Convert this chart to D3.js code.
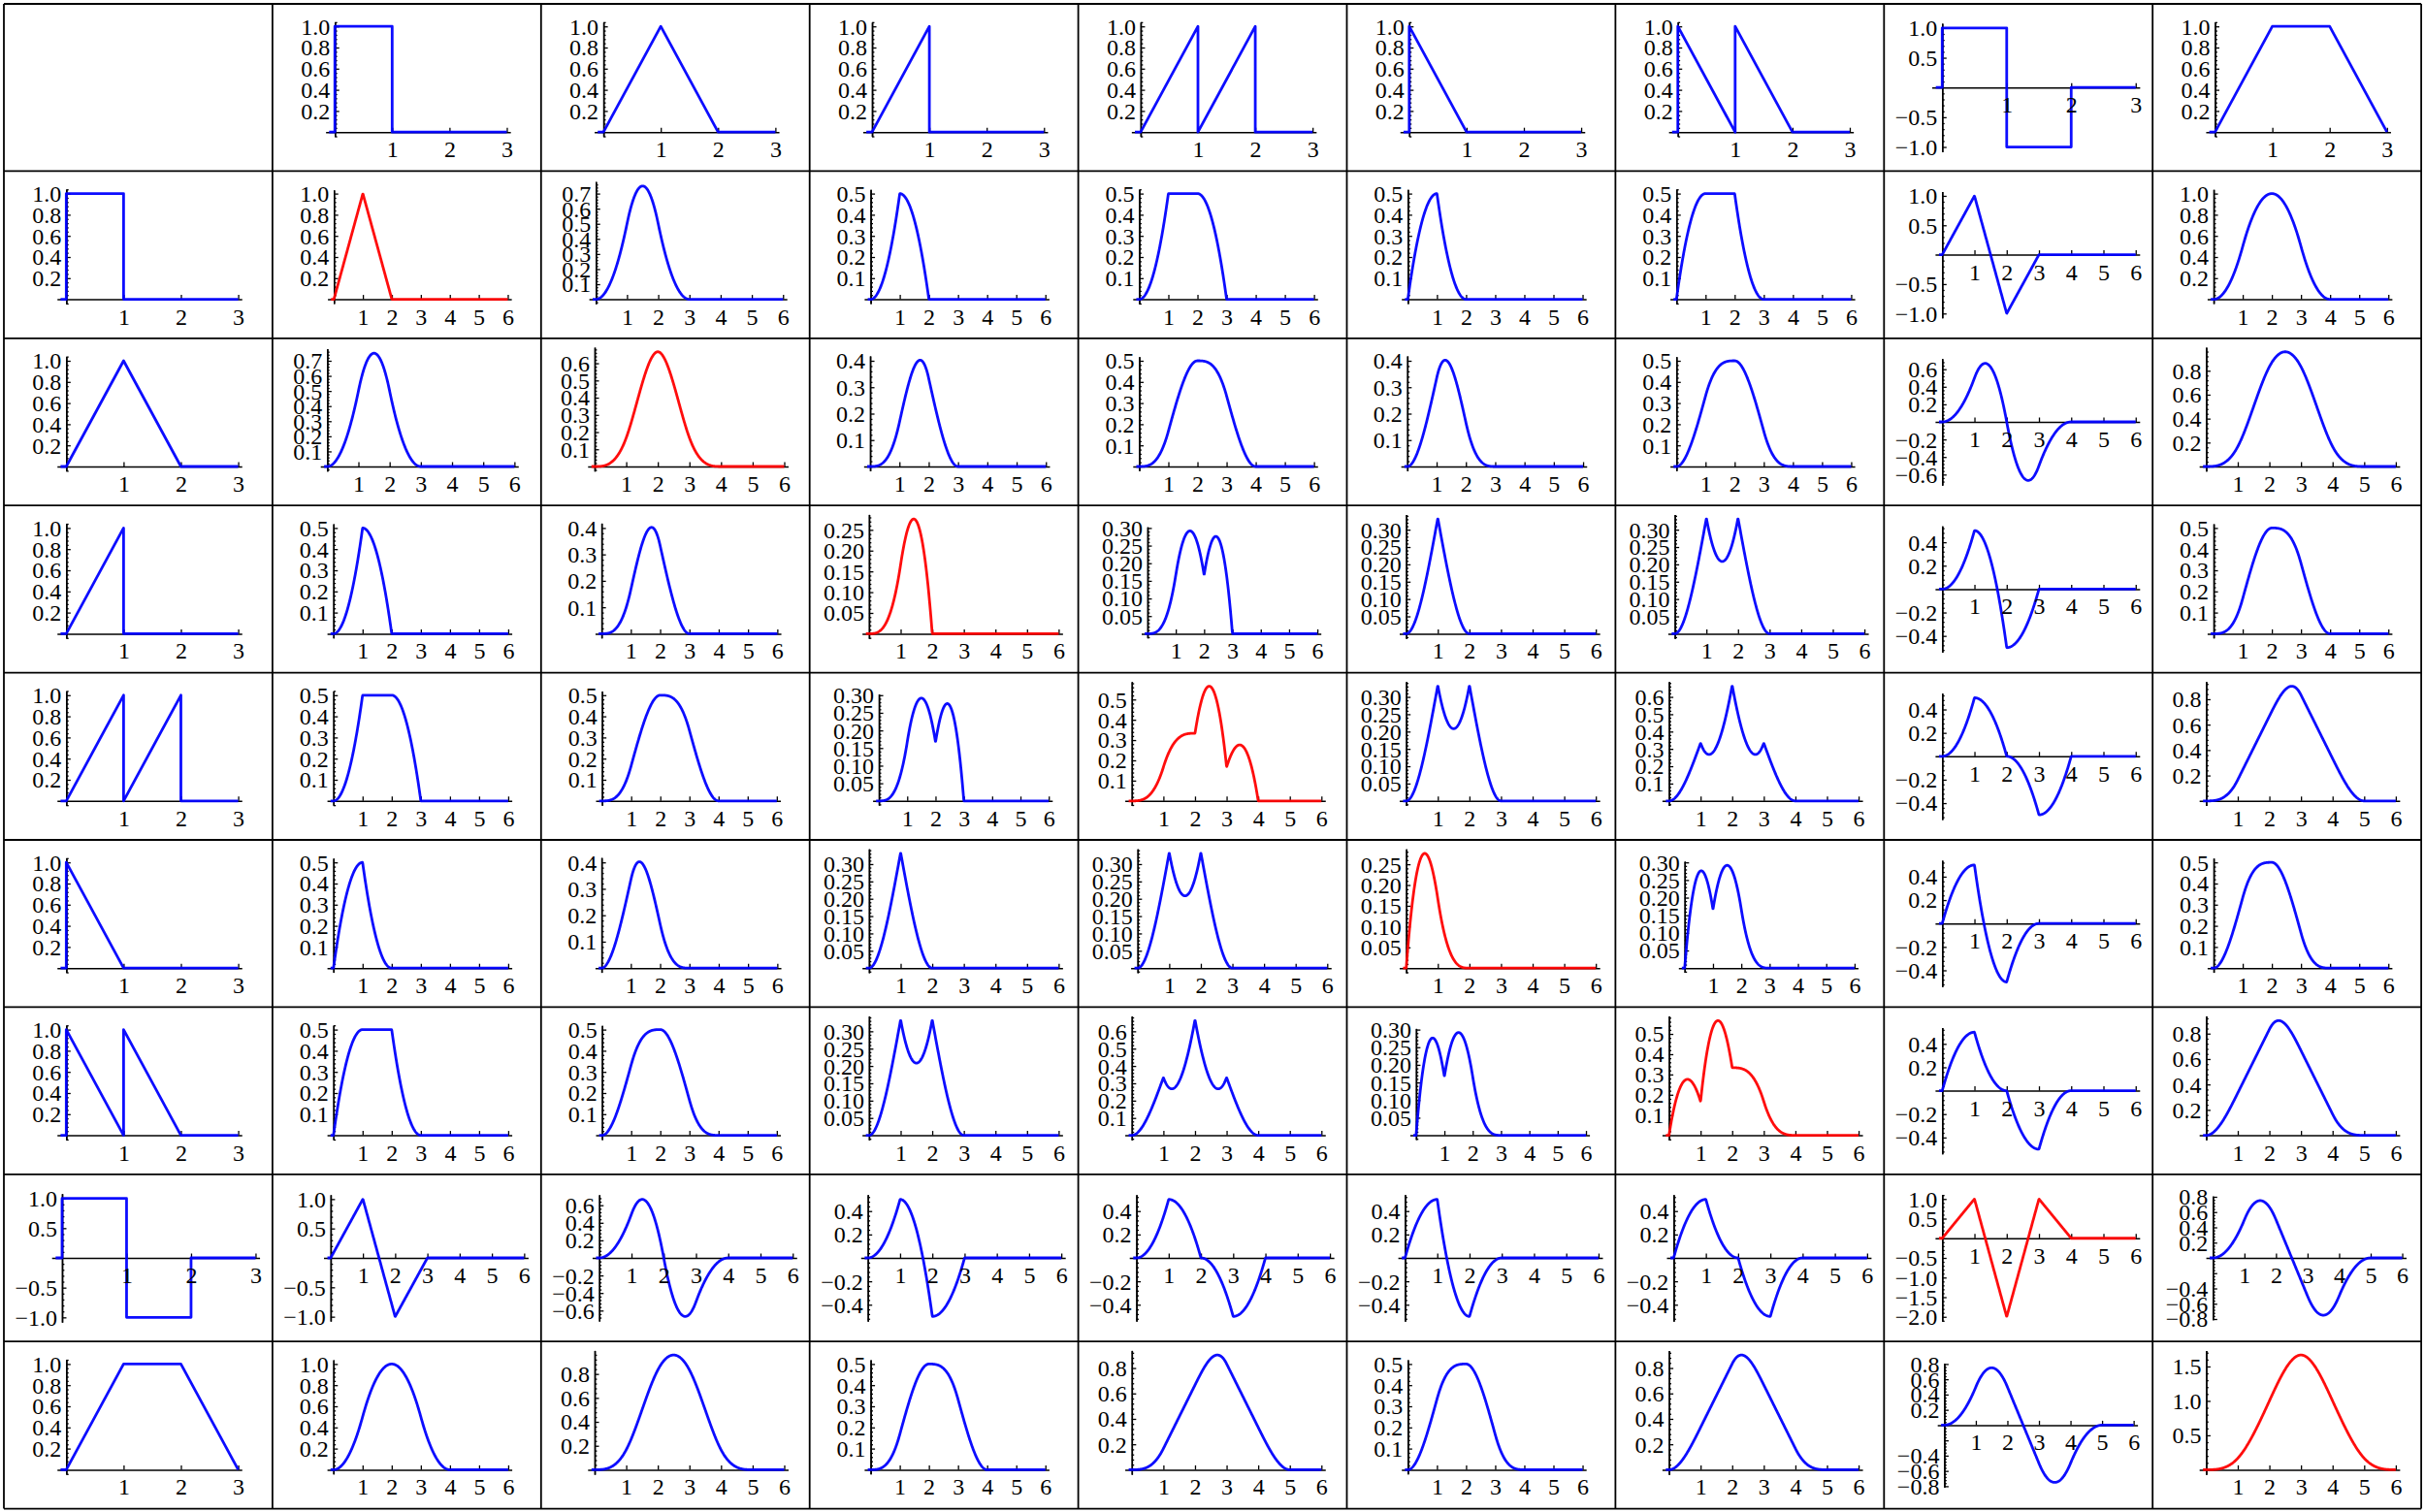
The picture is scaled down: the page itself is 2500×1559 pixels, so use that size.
<!DOCTYPE html>
<html><head><meta charset="utf-8">
<script src="https://d3js.org/d3.v7.min.js"></script>
<style>body{margin:0;background:#fff}svg{display:block}</style>
</head><body>
<script>
// ---------------- data ----------------
// Basis functions, each as linear pieces [x0, x1, y(x0), y(x1)]
const boxPieces        = [[0,1,1,1]];
const trianglePieces   = [[0,1,0,1],[1,2,1,0]];
const rampPieces       = [[0,1,0,1]];
const sawtoothPieces   = [[0,1,0,1],[1,2,0,1]];
const decayPieces      = [[0,1,1,0]];
const doubleDecayPieces= [[0,1,1,0],[1,2,1,0]];
const squareWavePieces = [[0,1,1,1],[1,2,-1,-1]];
const trapezoidPieces  = [[0,1,0,1],[1,2,1,1],[2,3,1,0]];
const basis = [boxPieces, trianglePieces, rampPieces, sawtoothPieces,
               decayPieces, doubleDecayPieces, squareWavePieces, trapezoidPieces];

const headerXTicks = [1,2,3];
const cellXTicks   = [1,2,3,4,5,6];
// y tick step read for every cell (row, column)
const yTickSteps = [
  [null,0.2,0.2,0.2,0.2,0.2,0.2,0.5,0.2],
  [0.2,0.2,0.1,0.1,0.1,0.1,0.1,0.5,0.2],
  [0.2,0.1,0.1,0.1,0.1,0.1,0.1,0.2,0.2],
  [0.2,0.1,0.1,0.05,0.05,0.05,0.05,0.2,0.1],
  [0.2,0.1,0.1,0.05,0.1,0.05,0.1,0.2,0.2],
  [0.2,0.1,0.1,0.05,0.05,0.05,0.05,0.2,0.1],
  [0.2,0.1,0.1,0.05,0.1,0.05,0.1,0.2,0.2],
  [0.5,0.5,0.2,0.2,0.2,0.2,0.2,0.5,0.2],
  [0.2,0.2,0.2,0.1,0.2,0.1,0.2,0.2,0.5]
];
const hiddenYLabels = [[7,8,-0.2],[8,7,-0.2]];

// ---------------- layout constants ----------------
const W = 2500, H = 1559;
const gridX0 = 4, gridY0 = 4, cellW = 276.9, cellH = 172.4, N = 9;
const FS = 24, FONT = "'Liberation Serif','Times New Roman',serif";
const WMAX = 254, HMAX = 154, GAP = 5, XLAB = 31, HH = 14, ASPECT = 0.618;

const svg = d3.select("body").append("svg").attr("width", W).attr("height", H);
svg.append("rect").attr("width", W).attr("height", H).attr("fill", "#fff");

const ctx = document.createElement("canvas").getContext("2d");
ctx.font = FS + "px 'Liberation Serif'";
const textW = s => ctx.measureText(s).width;

function evalF(pieces, t) {
  for (const [a, b, ya, yb] of pieces) if (t >= a && t < b) return ya + (yb - ya) * (t - a) / (b - a);
  return 0;
}
function basisPoints(pieces) {
  const pts = [[-0.1, 0]];
  let lastX = -0.1, lastY = 0;
  for (const [a, b, ya, yb] of pieces) {
    pts.push([a, lastX === a ? lastY : 0]);
    pts.push([a, ya]); pts.push([b, yb]);
    lastX = b; lastY = yb;
  }
  pts.push([lastX, 0]); pts.push([3, 0]);
  return pts;
}
function convolve(pa, pb) {
  const dt = 0.005, n = 600;
  const fa = new Float64Array(n), fb = new Float64Array(n);
  for (let i = 0; i < n; i++) { fa[i] = evalF(pa, (i + 0.5) * dt); fb[i] = evalF(pb, (i + 0.5) * dt); }
  const m = 2 * n - 1, h = new Float64Array(m);
  for (let i = 0; i < n; i++) { const a = fa[i]; if (a === 0) continue; for (let j = 0; j < n; j++) h[i + j] += a * fb[j]; }
  const pts = [[-0.1, 0], [0, 0]];
  for (let k = 0; k < m; k += 2) pts.push([(k + 1) * dt, h[k] * dt]);
  pts.push([6, 0]);
  return pts;
}

// grid lines
const gl = svg.append("g").attr("stroke", "#000").attr("stroke-width", 1.8);
for (let i = 0; i <= N; i++) {
  gl.append("line").attr("x1", gridX0 + i * cellW).attr("x2", gridX0 + i * cellW)
    .attr("y1", gridY0).attr("y2", gridY0 + N * cellH);
  gl.append("line").attr("y1", gridY0 + i * cellH).attr("y2", gridY0 + i * cellH)
    .attr("x1", gridX0).attr("x2", gridX0 + N * cellW);
}

function drawCell(r, c) {
  let pts, xMax, xTicks;
  if (r === 0) { pts = basisPoints(basis[c - 1]); xMax = 3; xTicks = headerXTicks; }
  else if (c === 0) { pts = basisPoints(basis[r - 1]); xMax = 3; xTicks = headerXTicks; }
  else { pts = convolve(basis[r - 1], basis[c - 1]); xMax = 6; xTicks = cellXTicks; }
  const color = r === c ? "#ff0000" : "#0000ff";
  const xLo = -0.1, xPad = 0.02 * (xMax - xLo);
  const xd = [xLo - xPad, xMax + xPad];
  const ymin = Math.min(0, d3.min(pts, d => d[1])), ymax = Math.max(0, d3.max(pts, d => d[1]));
  const yPad = 0.04 * (ymax - ymin);
  const yd = [ymin - yPad, ymax + yPad];
  const step = yTickSteps[r][c];
  const dec = step < 0.099 ? 2 : 1;
  const fmt = d3.format("." + dec + "f");
  const ticks = [];
  for (let k = Math.ceil(yd[0] / step - 1e-9); k * step <= yd[1] + 1e-9; k++) {
    const v = +(k * step).toFixed(6); if (Math.abs(v) > 1e-9) ticks.push(v);
  }
  const isHidden = v => hiddenYLabels.some(h => h[0] === r && h[1] === c && Math.abs(h[2] - v) < 1e-9);
  const labeled = ticks.filter(v => !isHidden(v));
  const minor = [];
  const ms = step / 5;
  for (let k = Math.ceil(yd[0] / ms - 1e-9); k * ms <= yd[1] + 1e-9; k++) {
    const v = +(k * ms).toFixed(6); if (k % 5 !== 0) minor.push(v);
  }
  const labelW = d3.max(labeled, v => textW(fmt(v))) || 0;
  const lastXHalf = textW(String(xTicks[xTicks.length - 1])) / 2;
  const tMax = d3.max(labeled), tMin = d3.min(labeled);

  function measure(s) {
    const ph = s * ASPECT;
    const x0off = s * (0 - xd[0]) / (xd[1] - xd[0]);
    const left = Math.max(0, labelW + GAP - x0off);
    const lastOff = s * (xd[1] - xTicks[xTicks.length - 1]) / (xd[1] - xd[0]);
    const right = Math.max(0, lastXHalf - lastOff);
    const yOf = v => ph * (yd[1] - v) / (yd[1] - yd[0]);
    const top = Math.max(0, HH - yOf(tMax));
    const bottom = Math.max(ph, yOf(0) + XLAB, yOf(tMin) + HH);
    return { ph, left, right, top, bottom, w: left + s + right, h: top + bottom };
  }
  let lo = 40, hi = 400;
  for (let it = 0; it < 40; it++) {
    const mid = (lo + hi) / 2, m = measure(mid);
    if (m.w <= WMAX && m.h <= HMAX) lo = mid; else hi = mid;
  }
  const s = lo, m = measure(s);
  const cx = gridX0 + (c + 0.5) * cellW, cy = gridY0 + (r + 0.5) * cellH;
  const ox = cx - m.w / 2 + m.left, oy = cy - m.h / 2 + m.top;

  const x = d3.scaleLinear().domain(xd).range([0, s]);
  const y = d3.scaleLinear().domain(yd).range([m.ph, 0]);
  const g = svg.append("g").attr("transform", `translate(${ox},${oy})`);

  const styleAxis = sel => {
    sel.attr("font-family", FONT).attr("font-size", FS);
    sel.selectAll("path.domain").attr("stroke", "#000").attr("stroke-width", 1.5);
    sel.selectAll("line").attr("stroke", "#000").attr("stroke-width", 1.3);
    sel.selectAll("text").attr("fill", "#000");
  };
  // axes lines + ticks (no labels)
  g.append("g").attr("transform", `translate(0,${y(0)})`)
    .call(d3.axisBottom(x).tickValues(xTicks).tickSizeInner(-4.5).tickSizeOuter(0).tickFormat(() => ""))
    .call(styleAxis);
  g.append("g").attr("transform", `translate(${x(0)},0)`)
    .call(d3.axisLeft(y).tickValues(minor).tickSizeInner(-2.4).tickSizeOuter(0).tickFormat(() => ""))
    .call(styleAxis);
  g.append("g").attr("transform", `translate(${x(0)},0)`)
    .call(d3.axisLeft(y).tickValues(ticks).tickSizeInner(-4.5).tickSizeOuter(0).tickFormat(() => ""))
    .call(styleAxis);

  // curve
  g.append("path").datum(pts)
    .attr("d", d3.line().x(d => x(d[0])).y(d => y(d[1])))
    .attr("fill", "none").attr("stroke", color).attr("stroke-width", 2.8)
    .attr("stroke-linejoin", "round").attr("stroke-opacity", 0.95);

  // labels on top
  g.append("g").attr("transform", `translate(0,${y(0)})`)
    .call(d3.axisBottom(x).tickValues(xTicks).tickSizeInner(0).tickSizeOuter(0).tickPadding(9).tickFormat(d3.format("d")))
    .call(styleAxis).call(a => a.selectAll("line,path").remove());
  g.append("g").attr("transform", `translate(${x(0)},0)`)
    .call(d3.axisLeft(y).tickValues(ticks).tickSizeInner(0).tickSizeOuter(0).tickPadding(GAP)
      .tickFormat(v => isHidden(v) ? "" : fmt(v)))
    .call(styleAxis).call(a => a.selectAll("line,path").remove())
    .call(a => a.selectAll("text").attr("dy", "0.33em"));
}

for (let r = 0; r < N; r++) for (let c = 0; c < N; c++) if (r || c) drawCell(r, c);
</script>
</body></html>
